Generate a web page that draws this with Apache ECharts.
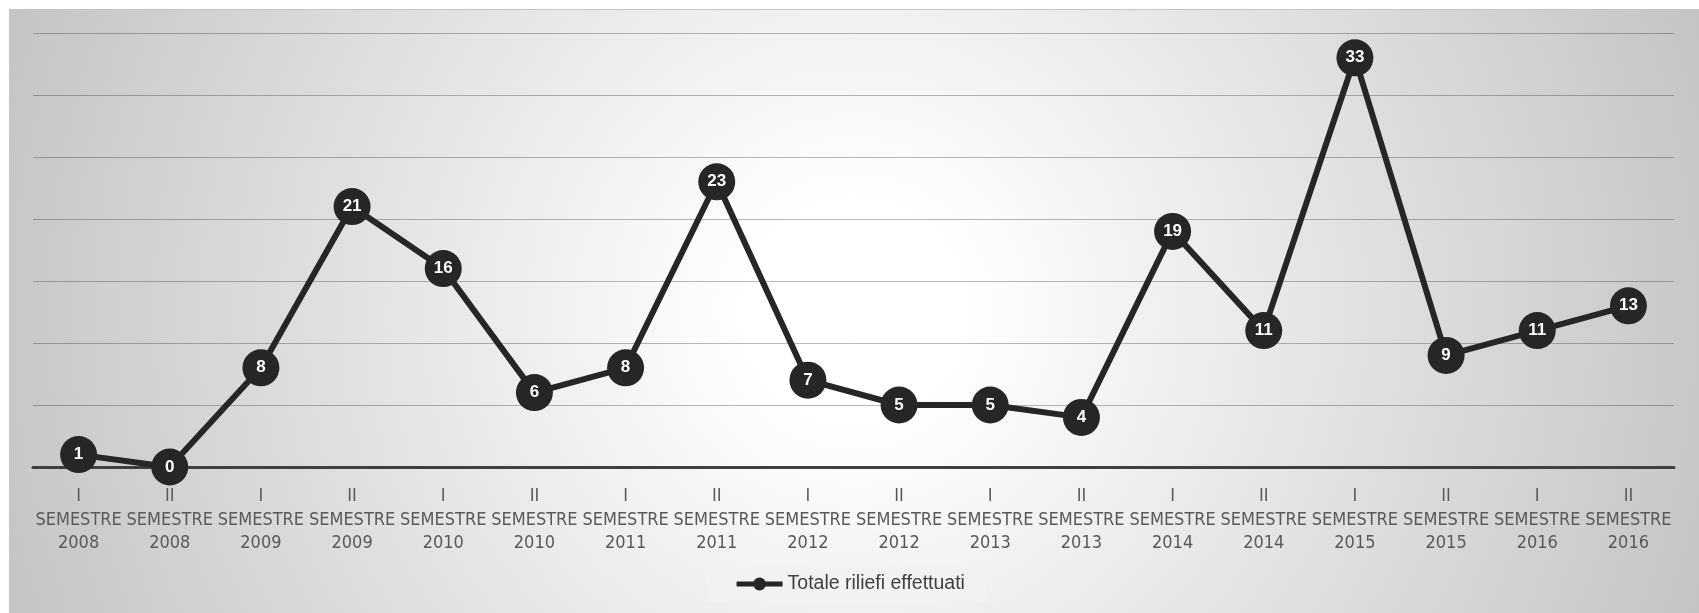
<!DOCTYPE html>
<html>
<head>
<meta charset="utf-8">
<script src="https://cdn.jsdelivr.net/npm/echarts@6/dist/echarts.min.js"></script>
<style>
  html, body { margin: 0; padding: 0; background: #ffffff; }
  #wrap { position: relative; width: 1699px; height: 613px; overflow: hidden; background: #ffffff; }
  #bg { position: absolute; left: 9px; top: 9px; width: 1690px; height: 604px;
        border-top: 1px solid #c4c4c4; box-sizing: border-box;
        background: radial-gradient(circle farthest-corner at 50% 50%, #ffffff 0%, #ffffff 12%, #c4c4c4 100%); }
  #chart { position: absolute; left: 0; top: 0; width: 1699px; height: 613px; }
</style>
</head>
<body>
<div id="wrap">
  <div id="bg"></div>
  <div id="chart"></div>
</div>
<script>
const semesters = ['I', 'II', 'I', 'II', 'I', 'II', 'I', 'II', 'I', 'II', 'I', 'II', 'I', 'II', 'I', 'II', 'I', 'II'];
const years = ['2008', '2008', '2009', '2009', '2010', '2010', '2011', '2011', '2012', '2012', '2013', '2013', '2014', '2014', '2015', '2015', '2016', '2016'];
const categories = semesters.map((s, i) => s + '\nSEMESTRE\n' + years[i]);
const seriesName = 'Totale riliefi effettuati';
const values = [1, 0, 8, 21, 16, 6, 8, 23, 7, 5, 5, 4, 19, 11, 33, 9, 11, 13];
const yMin = 0, yMax = 35, yStep = 5;

const chart = echarts.init(document.getElementById('chart'), null, { renderer: 'canvas' });
chart.setOption({
  backgroundColor: 'transparent',
  animation: false,
  grid: { left: 33, right: 25, top: 33, bottom: 146, containLabel: false },
  legend: {
    data: [seriesName],
    left: 'center',
    top: 566,
    backgroundColor: '#f2f2f2',
    padding: [8, 22, 8, 27],
    itemWidth: 46,
    itemHeight: 16,
    itemGap: 5,
    lineStyle: { width: 5, color: '#262626' },
    textStyle: { color: '#404040', fontSize: 19.5, fontFamily: "'Liberation Sans', Arial, sans-serif" }
  },
  xAxis: {
    type: 'category',
    data: categories,
    boundaryGap: true,
    axisLine: { show: true, lineStyle: { color: '#404040', width: 3 } },
    axisTick: { show: false },
    axisLabel: {
      interval: 0,
      margin: 18,
      color: '#595959',
      fontSize: 18,
      lineHeight: 23.5,
      fontFamily: "'Liberation Sans Narrow', 'DejaVu Sans Condensed', sans-serif"
    },
    splitLine: { show: false }
  },
  yAxis: {
    type: 'value',
    min: yMin,
    max: yMax,
    interval: yStep,
    axisLine: { show: false },
    axisTick: { show: false },
    axisLabel: { show: false },
    splitLine: { show: true, lineStyle: { color: 'rgba(0,0,0,0.27)', width: 1 } }
  },
  series: [{
    name: seriesName,
    type: 'line',
    data: values,
    symbol: 'circle',
    symbolSize: 37,
    itemStyle: { color: '#262626' },
    lineStyle: { color: '#262626', width: 6 },
    label: {
      show: true,
      position: 'inside',
      color: '#ffffff',
      fontWeight: 'bold',
      fontSize: 17,
      fontFamily: "'Liberation Sans', Arial, sans-serif"
    },
    z: 3
  }]
});
</script>
</body>
</html>
